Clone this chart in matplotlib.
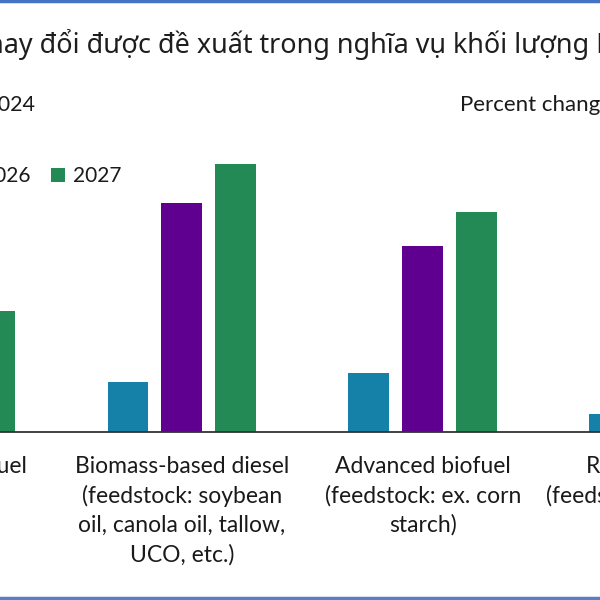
import matplotlib
matplotlib.use("Agg")
import matplotlib.pyplot as plt
import numpy as np
from matplotlib.patches import Patch

# Dữ liệu (% thay đổi so với 2024)
categories = ["Cellulosic biofuel",
              "Biomass-based diesel\n(feedstock: soybean\noil, canola oil, tallow,\nUCO, etc.)",
              "Advanced biofuel\n(feedstock: ex. corn\nstarch)",
              "Renewable fuel\n(feedstock: corn starch)"]
years = ["2025", "2026", "2027"]
v2025 = [26.6, 10.0, 11.8, 3.6]
v2026 = [19.3, 45.8, 37.2, 11.5]
v2027 = [24.2, 53.6, 44.0, 13.6]
colors = ["#1681A8", "#5F0090", "#238A55"]

title = "Những thay đổi được đề xuất trong nghĩa vụ khối lượng RFS"
subtitle = "Change vs. 2024"
unit_note = "Percent change"

W, H = 600, 600
fig = plt.figure(figsize=(6, 6), dpi=100)
fig.patch.set_facecolor("white")

# khung bị cắt: trục rộng hơn hình
ax = fig.add_axes([-200 / W, 1 - 432 / H, 1050 / W, 300 / H])
x = np.arange(len(categories))
bw = 0.170
step = 0.224
for i, (vals, c) in enumerate(zip([v2025, v2026, v2027], colors)):
    ax.bar(x + (i - 1) * step, vals, width=bw, color=c, label=years[i])

ax.set_xlim(-0.585, 3.772)
ax.set_ylim(0, 60)
ax.set_yticks([])
ax.set_xticks(x)
ax.set_xticklabels(categories, fontsize=16.5, family=["Lato", "DejaVu Sans"],
                   color="#1a1a1a", linespacing=1.46)
ax.tick_params(axis="x", length=0, pad=17)
for s in ["top", "right", "left"]:
    ax.spines[s].set_visible(False)
ax.spines["bottom"].set_color("#333333")
ax.spines["bottom"].set_linewidth(1.3)

# tiêu đề, căn để phần "hay đổi..." bắt đầu ở mép trái
r = fig.canvas.get_renderer()
tfont = dict(fontsize=19.4, family=["Noto Sans", "DejaVu Sans"], color="#1e1e1e")
probe = fig.text(0, 0, "Những t", **tfont)
pw = probe.get_window_extent(r).width
probe.remove()
fig.text(-(pw + 13) / W, 1 - 45 / H, title, ha="left", va="center", **tfont)

fig.text(35 / W, 1 - 105 / H, subtitle, ha="right", va="center",
         fontsize=15.5, family=["Lato", "DejaVu Sans"], color="#1a1a1a")
fig.text(460 / W, 1 - 105 / H, unit_note, ha="left", va="center",
         fontsize=16, family=["Lato", "DejaVu Sans"], color="#1a1a1a")

handles = [Patch(facecolor=c, label=y) for c, y in zip(colors, years)]
fig.legend(handles=handles, ncol=3, loc="center right",
           bbox_to_anchor=(121 / W, 1 - 176 / H), frameon=False,
           prop={"family": "Lato", "size": 15}, borderpad=0, borderaxespad=0,
           handlelength=0.67, handleheight=0.67, handletextpad=0.34,
           columnspacing=1.0, labelcolor="#1a1a1a")

# viền xanh trên/dưới
fig.add_artist(plt.Line2D([0, 1], [1 - 1 / H, 1 - 1 / H], color="#4472C4", lw=2.5,
                          transform=fig.transFigure))
fig.add_artist(plt.Line2D([0, 1], [2 / H, 2 / H], color="#5B7FC7", lw=2.5,
                          transform=fig.transFigure))

fig.savefig("out.png", dpi=100)
